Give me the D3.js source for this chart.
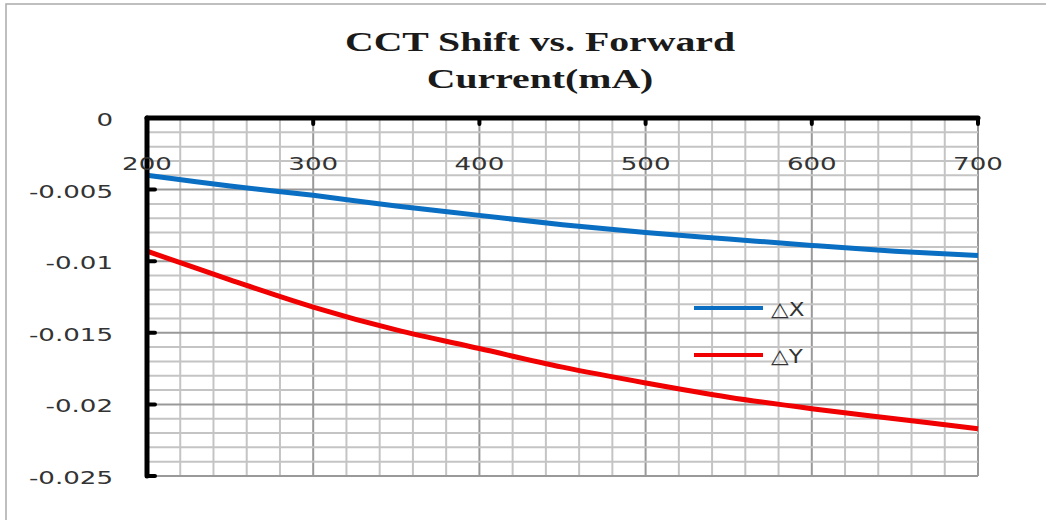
<!DOCTYPE html>
<html><head><meta charset="utf-8">
<script src="https://cdn.jsdelivr.net/npm/d3@7"></script>
<style>body{margin:0;background:#fff}svg{display:block}</style>
</head><body>
<svg id="c" width="1048" height="524"></svg>
<script>
const titleLines = ["CCT Shift vs. Forward", "Current(mA)"];
const xTickValues = [200, 300, 400, 500, 600, 700];
const yTickValues = [0, -0.005, -0.01, -0.015, -0.02, -0.025];
const yTickLabels = ["0", "-0.005", "-0.01", "-0.015", "-0.02", "-0.025"];
const current = [200, 250, 300, 350, 400, 450, 500, 550, 600, 650, 700];
const deltaX = [-0.0040, -0.00475, -0.0054, -0.00615, -0.0068, -0.00745, -0.0080, -0.00845, -0.0089, -0.0093, -0.0096];
const deltaY = [-0.0093, -0.0113, -0.0132, -0.0148, -0.0161, -0.0174, -0.0185, -0.0195, -0.0203, -0.0210, -0.0217];
const seriesNames = ["\u25B3X", "\u25B3Y"];
const seriesColors = ["#0a6fc2", "#f00000"];

const svg = d3.select("#c");
const x = d3.scaleLinear().domain([200, 700]).range([147, 978]);
const y = d3.scaleLinear().domain([0, -0.025]).range([118, 476]);

// outer border (top/left)
svg.append("path").attr("d", "M6,520 L6,4 L1046,4").attr("fill", "none").attr("stroke", "#aaa").attr("stroke-width", 1.5);

// title
const title = svg.append("g").attr("transform", "translate(540,0) scale(1.42,1)");
title.selectAll("text").data(titleLines).enter().append("text")
  .attr("x", 0).attr("y", (d, i) => 51 + i * 37)
  .attr("text-anchor", "middle")
  .attr("font-family", "Liberation Serif, Times New Roman, serif")
  .attr("font-weight", "bold").attr("font-size", 28).attr("fill", "#1a1a1a")
  .text(d => d);

// minor grid
const g = svg.append("g");
const minorX = d3.range(200, 701, 20);
const minorY = d3.range(0, 26).map(i => -i * 0.001);
g.selectAll(".gx").data(minorX).enter().append("line")
  .attr("x1", d => x(d)).attr("x2", d => x(d)).attr("y1", y(0)).attr("y2", y(-0.025))
  .attr("stroke", d => (d % 100 === 0) ? "#999" : "#c4c4c4").attr("stroke-width", 2);
g.selectAll(".gy").data(minorY).enter().append("line")
  .attr("x1", x(200)).attr("x2", x(700)).attr("y1", d => y(d)).attr("y2", d => y(d))
  .attr("stroke", (d, i) => (i % 5 === 0) ? "#999" : "#c4c4c4").attr("stroke-width", 2);

// series
const line = d3.line().x((d, i) => x(current[i])).y(d => y(d)).curve(d3.curveCatmullRom.alpha(0.5));
[deltaX, deltaY].forEach((s, k) => {
  svg.append("path").datum(s).attr("d", line).attr("fill", "none")
    .attr("stroke", seriesColors[k]).attr("stroke-width", 5).attr("stroke-linejoin", "round");
});

// axes
svg.append("line").attr("x1", x(200)).attr("x2", x(700)).attr("y1", y(0)).attr("y2", y(0))
  .attr("stroke", "#000").attr("stroke-width", 5).attr("stroke-linecap", "round");
svg.append("line").attr("x1", x(200)).attr("x2", x(200)).attr("y1", y(0)).attr("y2", y(-0.025))
  .attr("stroke", "#000").attr("stroke-width", 5).attr("stroke-linecap", "round");
svg.selectAll(".xt").data(xTickValues).enter().append("line")
  .attr("x1", d => x(d)).attr("x2", d => x(d)).attr("y1", y(0)).attr("y2", y(0) + 6)
  .attr("stroke", "#000").attr("stroke-width", 4).attr("stroke-linecap", "round");
svg.selectAll(".yt").data(yTickValues.slice(1)).enter().append("line")
  .attr("x1", x(200)).attr("x2", x(200) + 8).attr("y1", d => y(d)).attr("y2", d => y(d))
  .attr("stroke", "#000").attr("stroke-width", 4).attr("stroke-linecap", "round");

// tick labels
svg.selectAll(".xl").data(xTickValues).enter().append("text")
  .attr("transform", d => `translate(${x(d)},170) scale(1.45,1)`)
  .attr("text-anchor", "middle").attr("font-family", "DejaVu Sans, sans-serif")
  .attr("font-size", 18).attr("fill", "#333").text(d => d);
svg.selectAll(".yl").data(yTickValues).enter().append("text")
  .attr("transform", d => `translate(113,${y(d) + 8}) scale(1.45,1)`)
  .attr("text-anchor", "end").attr("font-family", "DejaVu Sans, sans-serif")
  .attr("font-size", 18).attr("fill", "#333").text((d, i) => yTickLabels[i]);

// legend
const legY = [308, 355];
seriesNames.forEach((n, k) => {
  svg.append("line").attr("x1", 694).attr("x2", 763).attr("y1", legY[k]).attr("y2", legY[k])
    .attr("stroke", seriesColors[k]).attr("stroke-width", 4);
  svg.append("text").attr("transform", `translate(771,${legY[k] + 8}) scale(1.15,1)`)
    .attr("font-family", "DejaVu Sans, sans-serif").attr("font-size", 20).attr("fill", "#333").text(n);
});
</script>
</body></html>
